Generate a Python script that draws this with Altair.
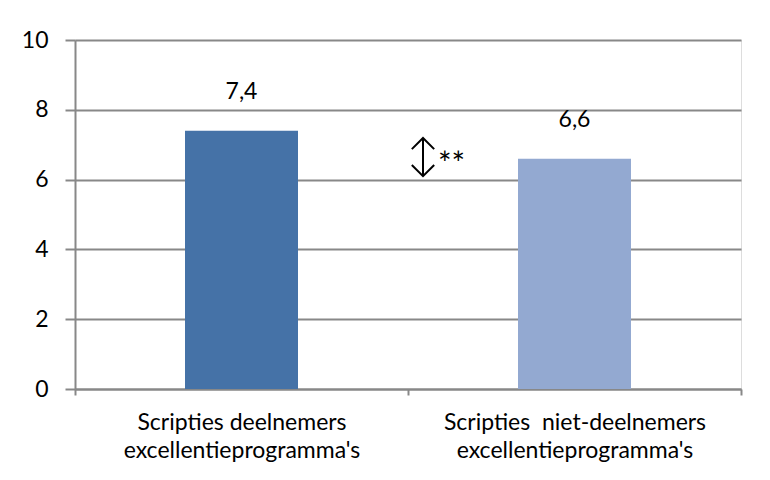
import altair as alt
import pandas as pd

categories = ["Scripties deelnemers|excellentieprogramma's", "Scripties\u00a0 niet-deelnemers|excellentieprogramma's"]
values = [7.4, 6.6]
value_labels = ["7,4", "6,6"]
colors = ["#4572A7", "#93A9D1"]
arrow_top = [7.19]
arrow_bottom = [6.10]
sig_text = ["**"]

df = pd.DataFrame({"cat": categories, "val": values, "lab": value_labels})
arr = pd.DataFrame({"top": arrow_top, "bot": arrow_bottom,
                    "mid": [(arrow_top[0] + arrow_bottom[0]) / 2], "t": sig_text})

FONT = "Lato"
FS = 23
W, H = 666, 349
GRAY = "#888888"

x = alt.X("cat:N", sort=categories, title=None,
          scale=alt.Scale(paddingInner=0, paddingOuter=0),
          axis=alt.Axis(labelAngle=0, labelExpr="split(datum.label, '|')",
                        labelFontSize=FS, labelFont=FONT, labelColor="#000000", labelLimit=0,
                        labelLineHeight=28, labelPadding=34, labelBaseline="alphabetic",
                        tickBand="extent", tickSize=6, tickColor=GRAY,
                        domainColor=GRAY, domainWidth=2, tickWidth=2, grid=False))
y = alt.Y("val:Q", title=None,
          scale=alt.Scale(domain=[0, 10]),
          axis=alt.Axis(values=[0, 2, 4, 6, 8, 10], labelFontSize=FS, labelFont=FONT,
                        labelColor="#000000", labelPadding=17, tickSize=10,
                        tickColor=GRAY, domainColor=GRAY, domainWidth=2, tickWidth=2,
                        grid=True, gridColor=GRAY, gridWidth=2))

bars = alt.Chart(df).mark_bar(size=113).encode(
    x=x, y=y,
    color=alt.Color("cat:N", sort=categories, scale=alt.Scale(domain=categories, range=colors), legend=None),
)
labels = alt.Chart(df).mark_text(fontSize=FS, font=FONT, baseline="alphabetic", dy=-32, fill="#000000").encode(
    x=alt.X("cat:N", sort=categories), y="val:Q", text="lab:N"
)

ax = 348
shaft = alt.Chart(arr).mark_rule(color="#000000", strokeWidth=2).encode(
    x=alt.value(ax), y="top:Q", y2="bot:Q"
)
head_up = alt.Chart(arr).mark_point(shape="M-1,0.5L0,-0.5L1,0.5", filled=False, color="#000000",
                                    strokeWidth=2, size=500, opacity=1, yOffset=5.5).encode(
    x=alt.value(ax), y="top:Q"
)
head_dn = alt.Chart(arr).mark_point(shape="M-1,-0.5L0,0.5L1,-0.5", filled=False, color="#000000",
                                    strokeWidth=2, size=500, opacity=1, yOffset=-5.5).encode(
    x=alt.value(ax), y="bot:Q"
)
stars = alt.Chart(arr).mark_text(fontSize=32, font=FONT, align="left", baseline="alphabetic",
                                 fill="#000000", dy=18).encode(
    x=alt.value(ax + 15), y="mid:Q", text="t:N"
)
border = alt.Chart(arr).mark_rect(fill="#ffffff", fillOpacity=0, stroke=GRAY, strokeWidth=2).encode(
    x=alt.value(-68), x2=alt.value(W + 100), y=alt.value(-33), y2=alt.value(H + 150)
)

chart = alt.layer(border, bars, labels, shaft, head_up, head_dn, stars).properties(
    width=W, height=H,
    autosize=alt.AutoSizeParams(type="none"),
    padding={"left": 67, "top": 32, "right": 20, "bottom": 80},
).configure_view(stroke=None).configure(background="#ffffff")

chart.save("out.html", embed_options={"renderer": "svg", "actions": False})
